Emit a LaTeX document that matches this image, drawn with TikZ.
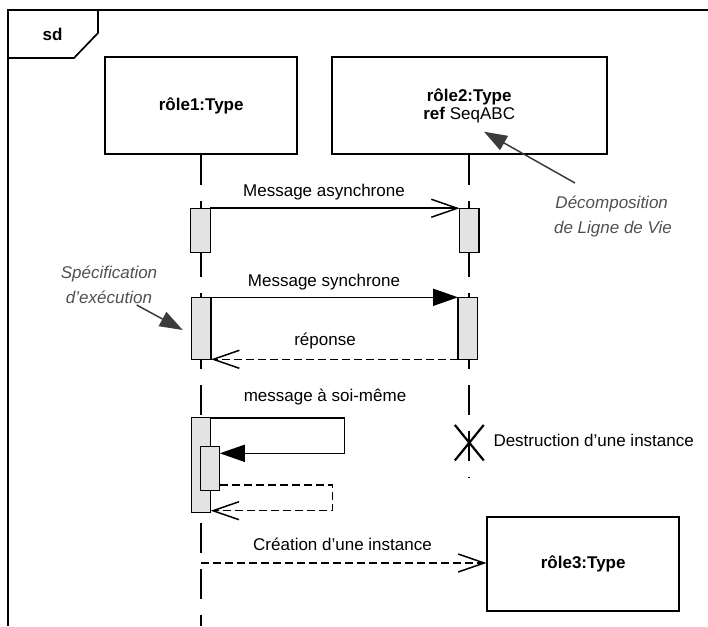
\documentclass[tikz,border=0pt]{standalone}
\usepackage{fontspec}
\setmainfont{Liberation Sans}
\usetikzlibrary{arrows.meta,shapes.misc}
\definecolor{barfill}{HTML}{E3E3E3}
\definecolor{notegray}{HTML}{505050}
\definecolor{notearrow}{HTML}{3C3C3C}
\begin{document}
\begin{tikzpicture}[x=1pt,y=-1pt,
  lbl/.style={font=\fontsize{17}{17}\selectfont, inner sep=0pt, anchor=base},
  role/.style={draw, line width=1.8pt, inner sep=0pt, font=\fontsize{17}{17}\selectfont\bfseries, align=center},
  actbar/.style={draw, fill=barfill, line width=1.4pt, inner sep=0pt, outer sep=0pt, minimum width=19.5pt},
  msg/.style={line width=1.6pt},
  retmsg/.style={line width=1.5pt, dash pattern=on 8pt off 4pt},
  openhead/.style={-{Straight Barb[length=26pt,width=18pt,line width=1.5pt]}},
  fullhead/.style={-{Triangle[length=25pt,width=17pt]}},
  lifeline/.style={line width=1.8pt, dash pattern=on 30pt off 16pt},
  note/.style={font=\fontsize{17}{17}\selectfont\itshape, text=notegray, inner sep=0pt, anchor=base},
  notearr/.style={line width=1.5pt, draw=notearrow, -{Triangle[length=23pt,width=16pt,fill=notearrow]}}
]
\useasboundingbox (0,0) rectangle (708,626);
% frame
\draw[line width=1.7pt] (8,626) -- (8,10) -- (708,10);
\draw[line width=1.7pt] (8,58) -- (74,58) -- (98,33) -- (98,10);
\node[lbl, font=\fontsize{17}{17}\selectfont\bfseries] (sd) at (52.5,40.7) {sd};

% lifeline heads
\node[role, minimum width=192pt, minimum height=96.7pt] (r1) at (201.2,105.7) {rôle1:Type};
\node[role, minimum width=275pt, minimum height=96.7pt] (r2) at (469.2,105.7) {rôle2:Type\\[0.5pt]\textmd{\textbf{ref} SeqABC}};
\node[role, minimum width=191.7pt, minimum height=94pt] (r3) at (583.2,563.7) {rôle3:Type};

% lifelines
\coordinate (l1end) at (201.2,626);
\coordinate (l2end) at (469.2,478);
\draw[lifeline] (r1.south) -- (l1end);
\draw[lifeline] (r2.south) -- (l2end);

% activation bars
\node[actbar, minimum height=44.5pt] (b1a) at (200.5,230.5) {};
\node[actbar, minimum height=44.5pt] (b2a) at (469.3,230.5) {};
\node[actbar, minimum height=62pt] (b1s) at (201.3,328.3) {};
\node[actbar, minimum height=62pt] (b2s) at (467.8,328.3) {};
\node[actbar, minimum height=95pt] (b1o) at (201,465.2) {};
\node[actbar, minimum height=44pt] (b1i) at (210,468.7) {};

% asynchronous message
\draw[msg, openhead] (b1a.north east) -- (b2a.north west);
\node[lbl] (masync) at (324,196.7) {Message asynchrone};

% synchronous message and reply
\draw[msg, fullhead] (b1s.north east) -- (b2s.north west);
\node[lbl] (msync) at (324,286) {Message synchrone};
\draw[retmsg, openhead] (b2s.south west) -- (b1s.south east);
\node[lbl] (mrep) at (325,345) {réponse};

% self message
\coordinate (selfA) at (344.3,417.7);
\coordinate (selfB) at (344.3,453.3);
\coordinate (selfret0) at (220,485);
\coordinate (selfC) at (332.7,485);
\coordinate (selfD) at (332.7,510.7);
\coordinate (selfE) at (210.7,510.7);
\draw[msg, fullhead] (b1o.north east) -- (selfA) -- (selfB) -- (b1i.east |- selfB);
\draw[retmsg, openhead] (b1i.east |- selfret0) -- (selfC) -- (selfD) -- (selfE);
\node[lbl] (mself) at (325,401.7) {message à soi-même};

% destruction
\node[cross out, draw, line width=2.2pt, minimum width=26.7pt, minimum height=33.3pt, inner sep=0pt] (destr) at (469.3,442.7) {};
\node[lbl, anchor=base west] (mdestr) at (493.3,446.7) {Destruction d’une instance};

% creation
\coordinate (crstart) at (201.2,563);
\draw[retmsg, openhead] (crstart) -- (r3.west |- crstart);
\node[lbl] (mcreate) at (342.5,550) {Création d’une instance};

% annotations
\node[note] (dec1) at (611.7,208.3) {Décomposition};
\node[note] (dec2) at (613,233.3) {de Ligne de Vie};
\coordinate (decfrom) at (575,183);
\coordinate (decto) at (484,131.7);
\draw[notearr] (decfrom) -- (decto);

\node[note] (spec1) at (109,278.3) {Spécification};
\node[note] (spec2) at (109,303.3) {d’exécution};
\coordinate (specfrom) at (136.7,305);
\coordinate (specto) at (182.7,330);
\draw[notearr] (specfrom) -- (specto);
\end{tikzpicture}
\end{document}
